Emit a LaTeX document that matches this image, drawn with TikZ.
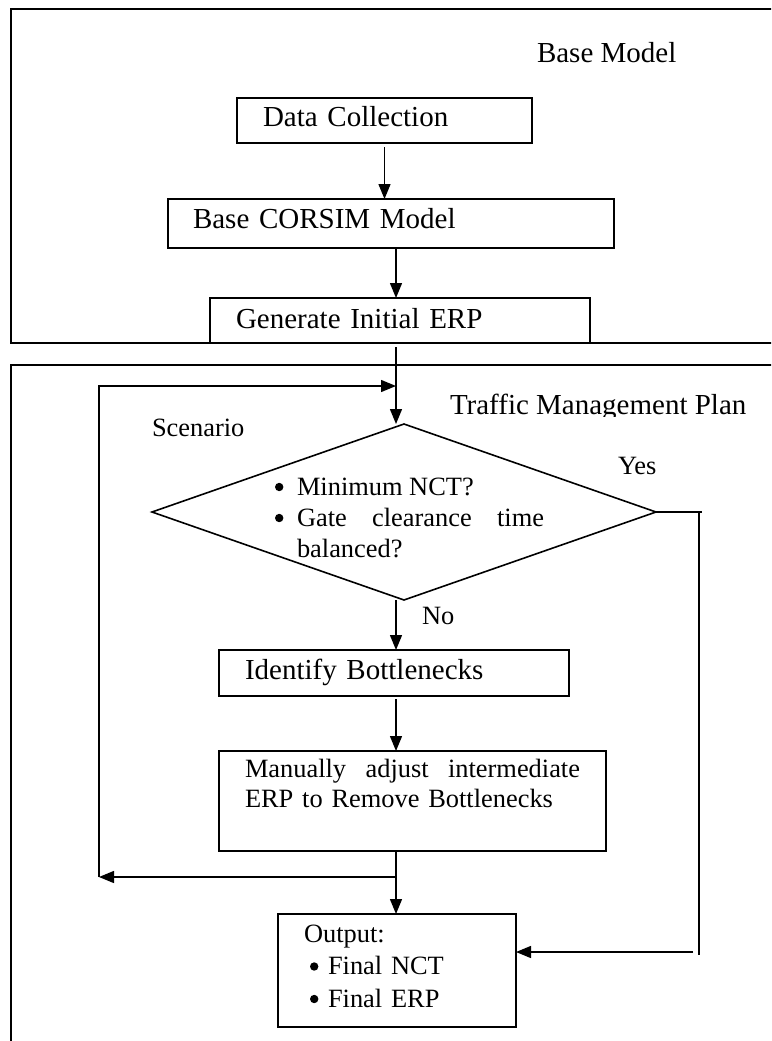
\documentclass[tikz,border=0pt]{standalone}
\usepackage{fontspec}
\setmainfont{Liberation Serif}
\usetikzlibrary{arrows.meta,shapes.geometric}
\newcommand\bigf{\fontsize{29}{31}\selectfont}
\newcommand\smf{\fontsize{26.4}{31}\selectfont}
\newcommand\manf{\fontsize{26.4}{30}\selectfont}
\newcommand\outf{\fontsize{26.4}{32.5}\selectfont}
\newcommand\bul{\tikz[baseline=-8pt]\fill (0pt,0pt) circle[radius=4.2pt];}
\tikzset{
  frm/.style={draw, line width=2pt, inner sep=0pt, outer sep=0pt, anchor=north west},
  box/.style={draw, line width=1.6pt, outer sep=0pt, inner ysep=0pt, anchor=north west, align=left},
  arr/.style={line width=1.4pt, -{Triangle[length=15pt,width=12pt]}},
  ln/.style={line width=1.4pt},
  lbl/.style={anchor=base west, inner sep=0pt, outer sep=0pt},
}
\begin{document}
\begin{tikzpicture}[x=1pt,y=-1pt]
\useasboundingbox (0,0) rectangle (771,1041);
\fill[white] (0,0) rectangle (771,1041);
\clip (0,0) rectangle (771,1041);

% group frames
\node[frm, minimum width=800pt, minimum height=333.5pt] (baseframe) at (11,9.5) {};
\node[frm, minimum width=800pt, minimum height=720pt] (tmpframe) at (11,365) {};

% labels
\node[lbl, font=\bigf] (basettl) at (537,63) {Base Model};
\begin{scope}
  \clip (0,0) rectangle (771,416);
  \node[lbl, font=\bigf] (tmpttl) at (450,414) {Traffic Management Plan};
\end{scope}
\node[lbl, font=\smf] (scen) at (152,436) {Scenario};
\node[lbl, font=\smf] (yes) at (618,474) {Yes};
\node[lbl, font=\smf] (no) at (422,624) {No};

% boxes
\node[box, inner xsep=26pt, text width=243pt, text height=28pt, text depth=17pt, font=\bigf] (dc) at (237,98) {Data Collection};
\node[box, inner xsep=25pt, text width=396pt, text height=29pt, text depth=20pt, font=\bigf] (cors) at (168,199) {Base CORSIM Model};
\node[box, inner xsep=26pt, text width=328pt, text height=30pt, text depth=15pt, font=\bigf] (gen) at (210,298) {Generate Initial ERP};
\node[box, inner xsep=26pt, text width=298pt, text height=29pt, text depth=17pt, font=\bigf] (idb) at (219,650) {Identify Bottlenecks};
\node[box, inner xsep=26pt, text width=335pt, text height=26pt, text depth=74pt, font=\manf] (man) at (219,751)
  {\makebox[335pt][l]{Manually\hfill adjust\hfill intermediate}\\ERP to Remove Bottlenecks};
\node[box, inner xsep=26pt, text width=186pt, text height=28pt, text depth=85pt, font=\outf] (out) at (278,914)
  {Output:\\\hspace*{6pt}\makebox[18pt][l]{\bul}Final NCT\\\hspace*{6pt}\makebox[18pt][l]{\bul}Final ERP};

% decision
\node[draw, shape=diamond, line width=1.6pt, inner sep=0pt, outer sep=0pt,
      minimum width=504pt, minimum height=176pt, font=\smf] (dec) at (404,512)
  {\makebox[0pt][l]{\hspace*{-129pt}\raisebox{17pt}[0pt][0pt]{%
    \begin{tabular}[t]{@{}l@{}}
      \makebox[22pt][l]{\bul}Minimum NCT?\\
      \makebox[22pt][l]{\bul}\makebox[247pt][l]{Gate\hfill clearance\hfill time}\\
      \hspace*{22pt}balanced?
    \end{tabular}}}};

% main axis and loop coordinates
\coordinate (ax) at (396,0);
\coordinate (lpB) at (99,877);
\coordinate (lpT) at (99,386);
\coordinate (yA) at (702,510);
\coordinate (yB) at (699,510);
\coordinate (yC) at (699,955);
\coordinate (yD) at (693,952);

% connectors
\draw[arr, shorten <=4pt] (dc.south) -- (dc.south |- cors.north);
\draw[arr] (ax |- cors.south) -- (ax |- gen.north);
\draw[arr, shorten <=4pt] (ax |- gen.south) -- (ax |- dec.north);
\draw[arr] (ax |- dec.south) -- (ax |- idb.north);
\draw[arr, shorten <=3pt] (ax |- idb.south) -- (ax |- man.north);
\draw[arr] (ax |- man.south) -- (ax |- out.north);
% loop back
\draw[arr] (ax |- lpB) -- (lpB);
\draw[arr] (lpB) -- (lpT) -- (ax |- lpT);
% yes branch
\draw[ln] (dec.east) -- (dec.east -| yA);
\draw[ln] (yB |- dec.east) -- (yC);
\draw[arr] (yD) -- (yD -| out.east);
\end{tikzpicture}
\end{document}
